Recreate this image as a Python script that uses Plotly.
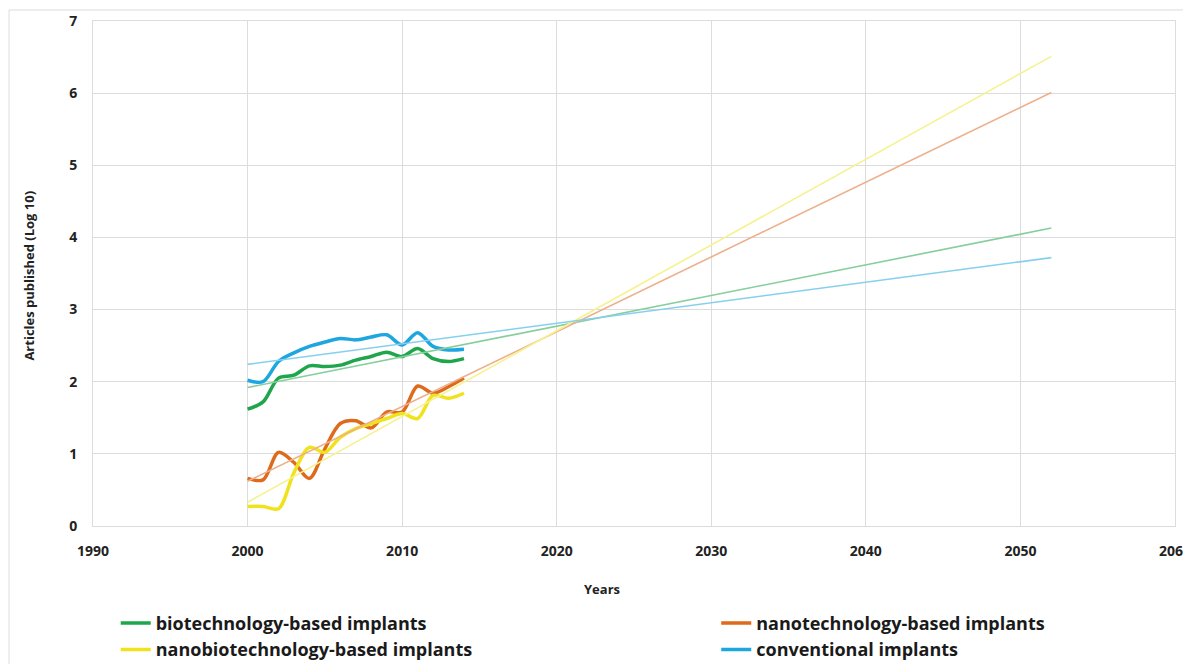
import plotly.graph_objects as go

years = [2000, 2001, 2002, 2003, 2004, 2005, 2006, 2007, 2008, 2009, 2010, 2011, 2012, 2013, 2014]

biotech = [1.62, 1.72, 2.05, 2.09, 2.22, 2.21, 2.23, 2.30, 2.35, 2.41, 2.35, 2.46, 2.32, 2.28, 2.32]
nanotech = [0.66, 0.64, 1.02, 0.88, 0.66, 1.07, 1.42, 1.46, 1.36, 1.58, 1.58, 1.94, 1.84, 1.93, 2.05]
nanobiotech = [0.27, 0.27, 0.24, 0.74, 1.09, 1.02, 1.23, 1.35, 1.42, 1.49, 1.56, 1.49, 1.81, 1.77, 1.84]
conventional = [2.02, 2.00, 2.28, 2.40, 2.49, 2.55, 2.60, 2.58, 2.62, 2.65, 2.51, 2.68, 2.49, 2.44, 2.45]

# linear trendline endpoints (forecast to 2052)
trend_years = [2000, 2052]
biotech_trend = [1.92, 4.13]
nanotech_trend = [0.62, 6.01]
nanobiotech_trend = [0.33, 6.51]
conventional_trend = [2.24, 3.72]

x_ticks = [1990, 2000, 2010, 2020, 2030, 2040, 2050, 2060]
y_ticks = [0, 1, 2, 3, 4, 5, 6, 7]

names = ["biotechnology-based implants", "nanotechnology-based implants",
         "nanobiotechnology-based implants", "conventional implants"]

series = [
    (names[0], biotech, biotech_trend, "#1FA64D", "#86CE9C", "legend"),
    (names[1], nanotech, nanotech_trend, "#DE6A1C", "#EDB08C", "legend2"),
    (names[2], nanobiotech, nanobiotech_trend, "#F0E21C", "#F6F28E", "legend"),
    (names[3], conventional, conventional_trend, "#1DA6DF", "#86D0EE", "legend2"),
]

fig = go.Figure()
for name, vals, trend, col, tcol, leg in series:
    fig.add_trace(go.Scatter(
        x=years, y=vals, mode="lines", name=name,
        line=dict(color=col, width=3.5, shape="spline", smoothing=0.9),
        legend=leg,
    ))
for name, vals, trend, col, tcol, leg in series:
    fig.add_trace(go.Scatter(
        x=trend_years, y=trend, mode="lines", showlegend=False,
        line=dict(color=tcol, width=1.6),
    ))

font_family = "Open Sans, Lato, sans-serif"
grid = "#DCDCDC"
dark = "#222222"

legend_common = dict(
    orientation="v", xanchor="left", yanchor="top", y=-0.156,
    itemwidth=30, tracegroupgap=0,
    font=dict(size=18, family=font_family, weight="bold", color="#1a1a1a"),
    bgcolor="rgba(0,0,0,0)",
)

# the page body adds an 8px offset, so the figure is 8px smaller and margins compensate
fig.update_layout(
    width=1183, height=656,
    margin=dict(l=85, r=16, t=13, b=138, autoexpand=False),
    paper_bgcolor="white", plot_bgcolor="white",
    font=dict(family=font_family, color=dark),
    xaxis=dict(
        range=[1990, 2060], tickvals=x_ticks, showgrid=True, gridcolor=grid,
        zeroline=False, showline=True, linecolor=grid, mirror=True,
        tickfont=dict(size=14, family=font_family, weight="bold", color=dark),
        ticklabelstandoff=12, ticks="", automargin=False,
        ticklabeloverflow="allow",
    ),
    yaxis=dict(
        range=[0, 7], tickvals=y_ticks, showgrid=True, gridcolor=grid,
        zeroline=False, showline=True, linecolor=grid, mirror=True,
        tickfont=dict(size=14, family=font_family, weight="bold", color=dark),
        ticklabelstandoff=12, ticks="", automargin=False,
    ),
    legend=dict(x=0.021, **legend_common),
    legend2=dict(x=0.576, **legend_common),
    annotations=[
        dict(text="Years", x=0.470, y=-0.125, xref="paper", yref="paper",
             showarrow=False, xanchor="center", yanchor="middle",
             font=dict(size=13, family=font_family, weight="bold", color=dark)),
        dict(text="Articles published (Log 10)", x=-0.060, y=0.496,
             xref="paper", yref="paper", textangle=-90,
             showarrow=False, xanchor="center", yanchor="middle",
             font=dict(size=13, family=font_family, weight="bold", color=dark)),
    ],
    shapes=[dict(
        type="rect", xref="paper", yref="paper",
        x0=-0.0776, x1=1.0111, y0=-0.3, y1=1.0218,
        line=dict(color="#DDDDDD", width=1), layer="below",
    )],
)

fig.write_html("out.html")
